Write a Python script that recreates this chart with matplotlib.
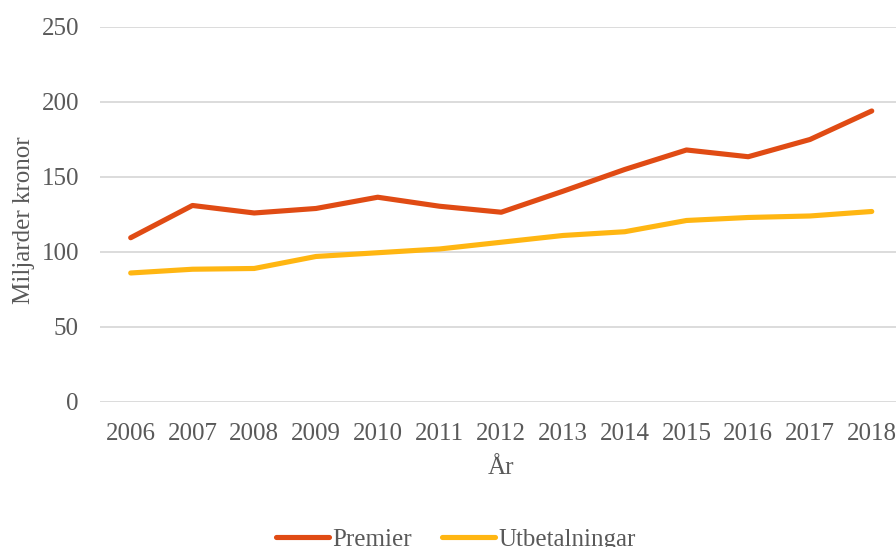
import matplotlib
matplotlib.use("Agg")
import matplotlib.pyplot as plt

years = [2006, 2007, 2008, 2009, 2010, 2011, 2012, 2013, 2014, 2015, 2016, 2017, 2018]
premier = [109.5, 131, 126, 129, 136.5, 130.5, 126.5, 140.5, 155, 168, 163.5, 175, 194]
utbetalningar = [86, 88.5, 89, 97, 99.5, 102, 106.5, 111, 113.5, 121, 123, 124, 127]
yticks = [0, 50, 100, 150, 200, 250]

plt.rcParams['font.family'] = ['Liberation Serif', 'DejaVu Serif']
text_color = '#595959'
fs = 18

fig = plt.figure(figsize=(8.96, 5.47), dpi=100)
ax = fig.add_axes([0.1114, 0.2651, 0.896, 0.6856])

ax.plot(years, premier, color='#E04B14', lw=3.7, solid_capstyle='round', solid_joinstyle='round', label='Premier')
ax.plot(years, utbetalningar, color='#FFB612', lw=3.7, solid_capstyle='round', solid_joinstyle='round', label='Utbetalningar')

ax.set_xlim(2005.5, 2018.5)
ax.set_ylim(0, 250)
ax.set_yticks(yticks)
ax.set_xticks(years)
ax.set_xticklabels([str(y) for y in years])
ax.grid(axis='y', color='#D9D9D9', lw=1.3)
ax.set_axisbelow(True)
for s in ax.spines.values():
    s.set_visible(False)
ax.tick_params(axis='both', length=0, labelsize=fs, colors=text_color)
ax.tick_params(axis='y', pad=15)
ax.tick_params(axis='x', pad=15)
ax.set_ylabel('Miljarder kronor', fontsize=fs, color=text_color)
ax.yaxis.set_label_coords(-0.081, 0.485)
ax.set_xlabel('År', fontsize=fs, color=text_color, labelpad=9)

fig.legend(loc='center', bbox_to_anchor=(0.509, 0.014), ncol=2, frameon=False,
           fontsize=fs, labelcolor=text_color, handlelength=2.1, handletextpad=0.15,
           columnspacing=1.2)

fig.savefig('out.png', dpi=100)
